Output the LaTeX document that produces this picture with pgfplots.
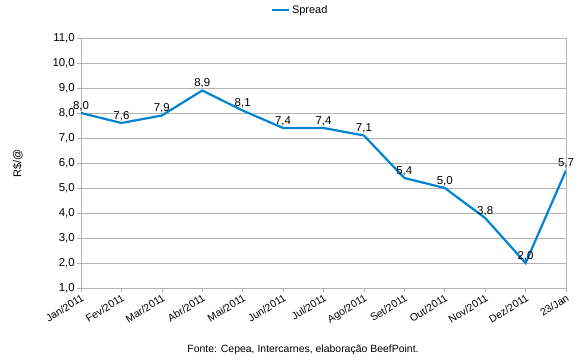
\documentclass[border=0pt]{standalone}
\usepackage{pgfplots}
\pgfplotsset{compat=1.18}
\usepackage{fontspec}
\setmainfont{Liberation Sans}
\definecolor{serieblue}{HTML}{0084D1}
\definecolor{gridgray}{HTML}{B3B3B3}
\begin{document}
\begin{tikzpicture}
\path[use as bounding box] (-81bp,-72bp) rectangle (499bp,288bp);
\begin{axis}[
  at={(0,0)}, anchor=origin,
  scale only axis, width=485bp, height=250bp,
  xmin=0, xmax=12, ymin=1, ymax=11,
  ytick={1,2,...,11},
  xtick={0,1,...,12},
  xticklabels={Jan/2011,Fev/2011,Mar/2011,Abr/2011,Mai/2011,Jun/2011,Jul/2011,Ago/2011,Set/2011,Out/2011,Nov/2011,Dez/2011,23/Jan},
  x tick label style={rotate=32, anchor=north east, inner sep=1bp, font=\fontsize{10.5}{12}\selectfont},
  y tick label style={font=\fontsize{11.5}{13}\selectfont, inner sep=2bp},
  /pgf/number format/.cd, use comma, fixed, fixed zerofill, precision=1, assume math mode=true,
  /pgfplots/.cd,
  tick align=outside, tick pos=left,
  major tick length=4bp,
  tick style={gridgray, line width=0.6bp},
  axis line style={gridgray, line width=0.6bp},
  ymajorgrids, grid style={gridgray, line width=0.6bp},
  ylabel={R\$/@}, ylabel style={font=\fontsize{11}{13}\selectfont, anchor=center, at={(axis description cs:-0.13,0.5)}},
  legend style={draw=none, fill=none, at={(0.4515,1.112)}, anchor=center, font=\fontsize{11}{13}\selectfont, legend cell align=left},
  legend image post style={line width=2.4bp},
  nodes near coords,
  every node near coord/.style={anchor=south, inner sep=1bp, font=\fontsize{11.5}{13}\selectfont, text=black},
]
\addplot[serieblue, line width=2.2bp, mark=none] coordinates {
(0,8.0) (1,7.6) (2,7.9) (3,8.9) (4,8.1) (5,7.4) (6,7.4) (7,7.1) (8,5.4) (9,5.0) (10,3.8) (11,2.0) (12,5.7)
};
\addlegendentry{Spread}
\end{axis}
\node[anchor=center, font=\fontsize{10.5}{12}\selectfont] at (222bp,-62bp) {Fonte: Cepea, Intercarnes, elaboração BeefPoint.};
\end{tikzpicture}
\end{document}
